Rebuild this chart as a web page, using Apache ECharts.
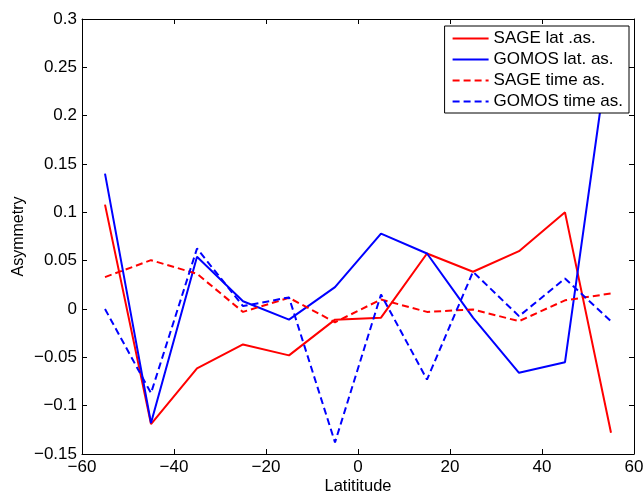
<!DOCTYPE html>
<html>
<head>
<meta charset="utf-8">
<script src="https://cdn.jsdelivr.net/npm/echarts@6/dist/echarts.min.js"></script>
<style>
  html, body { margin: 0; padding: 0; background: #fff; }
  #chart { width: 644px; height: 494px; }
</style>
</head>
<body>
<div id="chart"></div>
<script>
// latitude bins
const latitudes = [-55, -45, -35, -25, -15, -5, 5, 15, 25, 35, 45, 55];

// asymmetry values
const sageLat = [0.108, -0.119, -0.0615, -0.0367, -0.048, -0.011, -0.009, 0.0574, 0.0385, 0.0598, 0.100, -0.128];
const gomosLat = [0.140, -0.118, 0.054, 0.008, -0.011, 0.0226, 0.078, 0.0574, -0.009, -0.066, -0.055, 0.285];
const sageTime = [0.033, 0.0505, 0.0364, -0.003, 0.0116, -0.0137, 0.0098, -0.003, -0.0005, -0.0126, 0.009, 0.016];
const gomosTime = [0.0, -0.087, 0.0626, 0.003, 0.012, -0.138, 0.015, -0.073, 0.0385, -0.0074, 0.0315, -0.0126];

const seriesNames = ['SAGE lat .as.', 'GOMOS lat. as.', 'SAGE time as.', 'GOMOS time as.'];

const font = 'Liberation Sans, Arial, Helvetica, sans-serif';

function pairs(vals) {
  return latitudes.map((x, i) => [x, vals[i]]);
}

function minus(s) {
  return String(s).replace('-', '\u2212');
}

function makeLine(name, vals, color, dashed) {
  return {
    name: name,
    type: 'line',
    data: pairs(vals),
    symbol: 'none',
    showSymbol: false,
    silent: true,
    animation: false,
    lineStyle: { color: color, width: 2, type: dashed ? [7, 4] : 'solid' },
    itemStyle: { color: color },
    z: 2
  };
}

const chart = echarts.init(document.getElementById('chart'));

const axisLineStyle = { show: true, onZero: false, lineStyle: { color: '#000', width: 1 } };
const tickStyle = { show: true, inside: true, length: 5, lineStyle: { color: '#000' } };

chart.setOption({
  backgroundColor: '#fff',
  animation: false,
  textStyle: { fontFamily: font },
  grid: { left: 82, right: 10, top: 19, bottom: 40, containLabel: false, outerBoundsMode: 'none' },
  legend: {
    data: seriesNames,
    orient: 'vertical',
    right: 15,
    top: 26,
    backgroundColor: '#fff',
    borderColor: '#000',
    borderWidth: 1,
    padding: [4, 6, 3, 7],
    itemWidth: 36,
    itemHeight: 14,
    itemGap: 4,
    z: 10,
    itemStyle: { color: 'rgba(0,0,0,0)', borderWidth: 0 },
    textStyle: { fontFamily: font, fontSize: 17, lineHeight: 17, color: '#000' }
  },
  xAxis: [
    {
      type: 'value',
      min: -60,
      max: 60,
      interval: 20,
      name: 'Latititude',
      nameLocation: 'middle',
      nameGap: 24,
      nameMoveOverlap: false,
      nameTextStyle: { fontFamily: font, fontSize: 16.5, color: '#000' },
      axisLine: axisLineStyle,
      axisTick: tickStyle,
      axisLabel: { fontFamily: font, fontSize: 17, color: '#000', margin: 5, formatter: v => minus(v) },
      splitLine: { show: false }
    },
    {
      type: 'value',
      position: 'top',
      min: -60,
      max: 60,
      interval: 20,
      axisLine: axisLineStyle,
      axisTick: tickStyle,
      axisLabel: { show: false },
      splitLine: { show: false }
    }
  ],
  yAxis: [
    {
      type: 'value',
      min: -0.15,
      max: 0.3,
      interval: 0.05,
      name: 'Asymmetry',
      nameLocation: 'middle',
      nameGap: 55,
      nameMoveOverlap: false,
      nameTextStyle: { fontFamily: font, fontSize: 16, color: '#000' },
      axisLine: axisLineStyle,
      axisTick: tickStyle,
      axisLabel: {
        fontFamily: font, fontSize: 17, color: '#000', margin: 5,
        formatter: v => minus(parseFloat(v.toFixed(2)))
      },
      splitLine: { show: false }
    },
    {
      type: 'value',
      position: 'right',
      min: -0.15,
      max: 0.3,
      interval: 0.05,
      axisLine: axisLineStyle,
      axisTick: tickStyle,
      axisLabel: { show: false },
      splitLine: { show: false }
    }
  ],
  series: [
    makeLine(seriesNames[0], sageLat, '#ff0000', false),
    makeLine(seriesNames[1], gomosLat, '#0000ff', false),
    makeLine(seriesNames[2], sageTime, '#ff0000', true),
    makeLine(seriesNames[3], gomosTime, '#0000ff', true)
  ]
});
</script>
</body>
</html>
